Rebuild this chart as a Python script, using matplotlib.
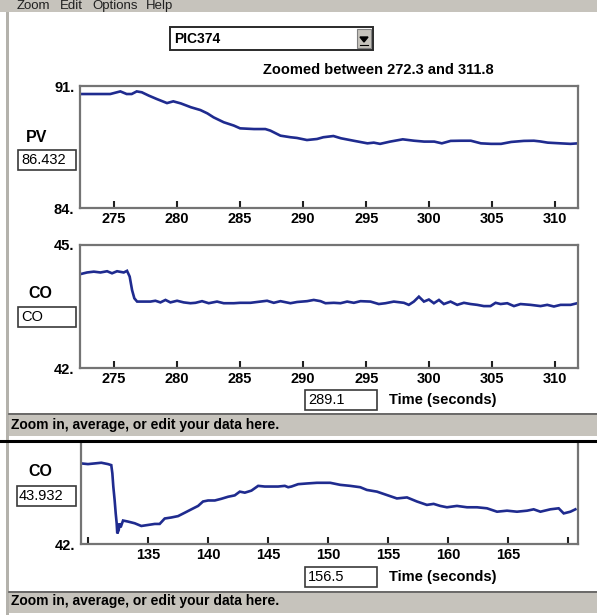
#!/usr/bin/env python3

import matplotlib.pyplot as plt
from matplotlib.patches import Rectangle, Polygon
from matplotlib.lines import Line2D

W, H = 597, 615

# PIC374 process value over the zoomed window (seconds, %)
pv_time = [272.3, 273.4, 274.7, 275.5, 276.0, 276.4, 276.8, 277.2, 277.75, 278.4,
           279.2, 279.7, 280.3, 281.1, 281.85, 282.4, 282.9, 283.7, 284.5, 285.0,
           286.1, 287.0, 287.4, 288.2, 289.0, 289.5, 290.3, 291.1, 291.6, 292.4,
           293.0, 294.0, 295.1, 295.6, 296.1, 296.9, 297.9, 298.8, 299.6, 300.4,
           301.0, 301.7, 302.5, 303.3, 304.1, 304.9, 305.7, 306.5, 307.5, 308.3,
           308.8, 309.4, 310.4, 311.2, 311.8]
pv_value = [90.54, 90.54, 90.54, 90.69, 90.54, 90.54, 90.69, 90.64, 90.45, 90.25,
            90.02, 90.12, 90.00, 89.78, 89.62, 89.43, 89.20, 88.92, 88.73, 88.57,
            88.53, 88.53, 88.44, 88.15, 88.06, 88.02, 87.90, 87.96, 88.06, 88.13,
            88.00, 87.86, 87.71, 87.75, 87.68, 87.81, 87.94, 87.86, 87.81, 87.81,
            87.71, 87.85, 87.86, 87.86, 87.71, 87.68, 87.68, 87.79, 87.85, 87.86,
            87.82, 87.75, 87.71, 87.68, 87.71]

# controller output over the same window
co_time = [272.33, 272.86, 273.4, 273.92, 274.45, 274.84, 275.24, 275.77, 276.03, 276.24,
           276.43, 276.61, 276.83, 277.89, 278.28, 278.68, 279.08, 279.47, 280.0, 280.53,
           281.06, 281.46, 281.98, 282.51, 283.17, 283.7, 284.5, 285.0, 285.82, 286.61,
           287.14, 287.67, 288.2, 288.99, 289.52, 290.31, 290.84, 291.38, 291.77,
           292.43, 292.96, 293.49, 294.02, 294.55, 295.34, 296.0, 296.53, 297.19, 297.99,
           298.38, 298.78, 299.18, 299.58, 299.97, 300.37, 300.77, 301.16, 301.69, 302.22,
           302.75, 303.28, 303.81, 304.33, 304.86, 305.26, 305.66, 306.19, 306.72, 307.24,
           308.04, 308.83, 309.36, 309.89, 310.42, 311.21, 311.74]
co_value = [44.29, 44.33, 44.35, 44.33, 44.36, 44.31, 44.36, 44.33, 44.37, 44.23,
            43.90, 43.70, 43.62, 43.62, 43.64, 43.60, 43.66, 43.60, 43.64, 43.60,
            43.58, 43.59, 43.63, 43.58, 43.62, 43.58, 43.58, 43.59, 43.59, 43.62,
            43.64, 43.59, 43.63, 43.58, 43.61, 43.63, 43.66, 43.63, 43.58,
            43.59, 43.58, 43.62, 43.59, 43.63, 43.62, 43.56, 43.58, 43.62, 43.59,
            43.54, 43.62, 43.74, 43.62, 43.67, 43.58, 43.66, 43.56, 43.62, 43.54,
            43.59, 43.56, 43.54, 43.51, 43.51, 43.59, 43.56, 43.58, 43.51, 43.56,
            43.54, 43.51, 43.54, 43.50, 43.54, 43.54, 43.58]

# controller output, earlier step test
trend_time = [129.44, 130.0, 130.56, 131.11, 131.67, 131.94, 132.03, 132.11, 132.22, 132.31,
              132.39, 132.44, 132.56, 132.64, 132.72, 132.92, 133.33, 133.89, 134.44, 135.0,
              135.56, 135.97, 136.39, 136.94, 137.5, 138.06, 138.61, 139.17, 139.58, 140.0,
              140.56, 141.11, 141.67, 142.22, 142.64, 143.06, 143.61, 144.17, 144.72, 145.28,
              145.83, 146.39, 146.67, 146.94, 147.5, 148.22, 149.06, 150.17, 151.0, 151.83,
              152.67, 153.22, 154.06, 154.89, 155.72, 156.56, 157.39, 158.22, 158.78, 159.33,
              159.89, 160.72, 161.56, 162.39, 163.22, 164.06, 164.89, 165.72, 166.56, 167.11,
              167.67, 168.5, 169.19, 169.61, 170.17, 170.58]
trend_value = [44.37, 44.35, 44.37, 44.39, 44.35, 44.32, 44.08, 43.69, 43.29, 42.90,
               42.61, 42.31, 42.41, 42.61, 42.49, 42.69, 42.66, 42.61, 42.53, 42.56,
               42.59, 42.59, 42.75, 42.78, 42.82, 42.92, 43.02, 43.12, 43.25, 43.28,
               43.28, 43.33, 43.39, 43.43, 43.54, 43.51, 43.57, 43.71, 43.69, 43.69,
               43.69, 43.71, 43.67, 43.69, 43.76, 43.78, 43.80, 43.80, 43.74, 43.71,
               43.67, 43.59, 43.54, 43.44, 43.34, 43.37, 43.25, 43.15, 43.18, 43.12,
               43.08, 43.12, 43.08, 43.08, 43.05, 42.95, 42.98, 42.95, 42.98, 43.02,
               42.95, 43.02, 43.05, 42.90, 42.95, 43.02]

zoom_ticks = [275, 280, 285, 290, 295, 300, 305, 310]
trend_ticks = [130, 135, 140, 145, 150, 155, 160, 165, 170]
trend_tick_labels = ["", "135", "140", "145", "150", "155", "160", "165", ""]

FONT = "Liberation Sans"
LINE = "#1f2b8f"
GREY = "#c6c3bc"


def fx(x):
    return x / W


def fy(y):
    return 1 - y / H


def rect(x0, y0, x1, y1):
    return [fx(x0), fy(y1), (x1 - x0) / W, (y1 - y0) / H]


def add_box(fig, x0, y0, x1, y1, face="white", edge="#3a3a3a", lw=1.2):
    fig.patches.append(Rectangle((fx(x0), fy(y1)), (x1 - x0) / W, (y1 - y0) / H,
                                 transform=fig.transFigure, facecolor=face,
                                 edgecolor=edge, linewidth=lw))


def add_hline(fig, x0, x1, y, color, lw):
    fig.lines.append(Line2D([fx(x0), fx(x1)], [fy(y), fy(y)],
                            transform=fig.transFigure, color=color, linewidth=lw))


def label(fig, x, y, s, size=10.5, weight="bold", ha="left"):
    fig.text(fx(x), fy(y), s, fontsize=size, fontweight=weight, ha=ha,
             va="center", family=FONT)


def trend_axes(fig, box, t, v, xlim, ylim, ticks, tick_labels, yticks, ylabels):
    ax = fig.add_axes(rect(*box))
    ax.plot(t, v, color=LINE, lw=1.9, solid_joinstyle="miter")
    ax.set_xlim(*xlim)
    ax.set_ylim(*ylim)
    ax.set_xticks(ticks)
    ax.set_xticklabels(tick_labels)
    ax.set_yticks(yticks)
    ax.set_yticklabels(ylabels)
    ax.tick_params(axis="x", direction="in", length=5, width=1.5, color="#202020",
                   pad=3, labelsize=10.5)
    ax.tick_params(axis="y", length=0, pad=4, labelsize=10.5)
    for lab in ax.get_xticklabels() + ax.get_yticklabels():
        lab.set_fontweight("bold")
        lab.set_family(FONT)
    for sp in ax.spines.values():
        sp.set_color("#747474")
        sp.set_linewidth(1.6)
    return ax


fig = plt.figure(figsize=(W / 100, H / 100), dpi=100)
fig.patch.set_facecolor("white")

# window chrome: menu bar and left border
add_box(fig, 0, -2, 599, 12, face=GREY, edge=GREY, lw=0)
add_box(fig, 6, 12, 9, 615, face="#b4b2ac", edge="#b4b2ac", lw=0)
for x, name in [(17, "Zoom"), (60, "Edit"), (92, "Options"), (146, "Help")]:
    fig.text(fx(x), fy(9), name, fontsize=9.5, family=FONT, va="baseline", color="#202020")

# tag selector
add_box(fig, 170, 27, 373, 50, edge="#2a2a2a", lw=1.4)
add_box(fig, 357, 29, 371, 48, face=GREY, edge="#808080", lw=0.8)
fig.patches.append(Polygon([(fx(360), fy(37)), (fx(368), fy(37)), (fx(364), fy(42))],
                           closed=True, transform=fig.transFigure, color="black"))
add_hline(fig, 360, 368, 44.5, "black", 0.8)
label(fig, 174, 39, "PIC374", size=10)

label(fig, 494, 70, "Zoomed between 272.3 and 311.8", ha="right")

# upper pair of zoomed trends
trend_axes(fig, (80, 86, 578, 208), pv_time, pv_value, (272.3, 311.8), (84, 91),
           zoom_ticks, [str(t) for t in zoom_ticks], [84, 91], ["84.", "91."])
label(fig, 37, 137, "PV", size=11.5, ha="center")
add_box(fig, 18, 150, 76, 170)
label(fig, 21, 160, "86.432", weight="normal")

trend_axes(fig, (80, 245, 578, 368), co_time, co_value, (272.3, 311.8), (42, 45),
           zoom_ticks, [str(t) for t in zoom_ticks], [42, 45], ["42.", "45."])
label(fig, 40, 294, "CO", size=11.5, ha="center")
add_box(fig, 18, 307, 76, 327)
label(fig, 21, 317, "CO", weight="normal")

add_box(fig, 305, 390, 377, 410)
label(fig, 308, 400, "289.1", weight="normal")
label(fig, 389, 400, "Time (seconds)")

# status bar and divider
add_box(fig, 9, 413, 599, 436, face=GREY, edge=GREY, lw=0)
add_hline(fig, 9, 597, 413.5, "#5a5a5a", 1.2)
label(fig, 11, 425, "Zoom in, average, or edit your data here.", size=10)
add_hline(fig, 0, 597, 441, "black", 2.2)

# lower trend, full step response
ax = trend_axes(fig, (81, 442, 578, 544), trend_time, trend_value, (129.42, 170.8), (42, 45),
                trend_ticks, trend_tick_labels, [42], ["42."])
ax.spines["top"].set_visible(False)
label(fig, 40, 472, "CO", size=11.5, ha="center")
add_box(fig, 17, 486, 76, 506)
label(fig, 19, 496, "43.932", weight="normal")

add_box(fig, 305, 567, 377, 587)
label(fig, 308, 577, "156.5", weight="normal")
label(fig, 389, 577, "Time (seconds)")

add_box(fig, 9, 591, 599, 613, face=GREY, edge=GREY, lw=0)
add_hline(fig, 9, 597, 591.5, "#5a5a5a", 1.2)
label(fig, 11, 601, "Zoom in, average, or edit your data here.", size=10)

fig.savefig("out.png", dpi=100)
